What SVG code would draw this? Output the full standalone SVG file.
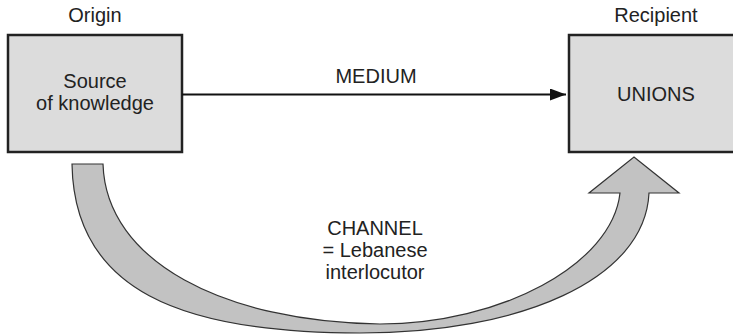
<svg xmlns="http://www.w3.org/2000/svg" width="733" height="335" viewBox="0 0 733 335">
  <style>
    text { font-family: "Liberation Sans", Arial, sans-serif; font-size: 20px; fill: #222; text-anchor: middle; }
    .box { fill: #dcdcdc; stroke: #222; stroke-width: 2.5; }
    .line { stroke: #111; stroke-width: 2; fill: none; }
    .channel { fill: #c2c2c2; stroke: #333; stroke-width: 1.2; stroke-linejoin: miter; }
  </style>
  <defs>
    <marker id="arr" markerWidth="16" markerHeight="12" refX="16" refY="6" orient="auto" markerUnits="userSpaceOnUse">
      <path d="M0,0 L16,6 L0,12 Z" fill="#111"/>
    </marker>
  </defs>
  <text x="95" y="22">Origin</text>
  <text x="656" y="22">Recipient</text>
  <g id="source">
    <rect class="box" x="8" y="35" width="174" height="117"/>
    <text x="95" y="88">Source</text>
    <text x="95" y="110">of knowledge</text>
  </g>
  <g id="unions">
    <rect class="box" x="569" y="35" width="180" height="117"/>
    <text x="656" y="101">UNIONS</text>
  </g>
  <g id="connectors">
    <line class="line" x1="182" y1="94.5" x2="566" y2="94.5" marker-end="url(#arr)"/>
    <text x="376" y="83">MEDIUM</text>
    <path class="channel" d="M72,164 L103,164 C106,262 225,322 380,324 C500,324 612,265 620,193 L589,193 L634,157 L679,193 L649,193 C645,280 520,333 360,333 C180,333 74,290 72,164 Z"/>
    <text x="375" y="235">CHANNEL</text>
    <text x="375" y="257">= Lebanese</text>
    <text x="375" y="279">interlocutor</text>
  </g>
</svg>
